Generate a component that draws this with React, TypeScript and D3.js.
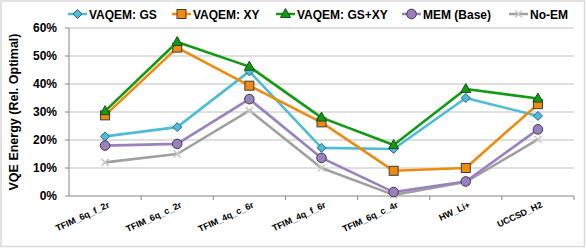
import React from "react";
import * as d3 from "d3";

const WIDTH = 586;
const HEIGHT = 248;
const MARGIN = { top: 28, right: 12, bottom: 52, left: 69 };

const categories = [
  "TFIM_6q_f_2r",
  "TFIM_6q_c_2r",
  "TFIM_4q_c_6r",
  "TFIM_4q_f_6r",
  "TFIM_6q_c_4r",
  "HW_Li+",
  "UCCSD_H2",
];

const yTicks = [0, 10, 20, 30, 40, 50, 60];

const gsValues = [21.3, 24.6, 44.5, 17.2, 16.8, 35.0, 28.6];
const xyValues = [28.8, 53.0, 39.4, 26.3, 9.0, 10.0, 32.8];
const gsxyValues = [30.3, 55.0, 46.2, 28.0, 18.2, 38.2, 34.8];
const memValues = [18.0, 18.6, 34.6, 13.6, 1.4, 5.2, 23.8];
const noemValues = [12.0, 15.0, 30.5, 10.0, 0.4, 5.0, 20.2];

type Marker = "diamond" | "square" | "triangle" | "circle" | "cross";
type Series = { name: string; values: number[]; color: string; marker: Marker };

const series: Series[] = [
  { name: "VAQEM: GS", values: gsValues, color: "#4fbcd6", marker: "diamond" },
  { name: "VAQEM: XY", values: xyValues, color: "#f08a0e", marker: "square" },
  { name: "VAQEM: GS+XY", values: gsxyValues, color: "#129a12", marker: "triangle" },
  { name: "MEM (Base)", values: memValues, color: "#9a80c0", marker: "circle" },
  { name: "No-EM", values: noemValues, color: "#a0a0a0", marker: "cross" },
];

// draw order so that green sits on top like the original
const drawOrder = [4, 3, 0, 1, 2];
const legendX = [68, 172, 276, 402, 509];

const FONT = "'Liberation Sans', Arial, sans-serif";
const MARK_STROKE = "#3f3f3f";

const MarkerShape = ({ kind, x, y, color }: { kind: Marker; x: number; y: number; color: string }) => {
  if (kind === "diamond") {
    const r = 4.5;
    return (
      <path
        d={`M${x},${y - r}L${x + r},${y}L${x},${y + r}L${x - r},${y}Z`}
        fill={color}
        stroke="#2f5f8a"
        strokeWidth={1}
      />
    );
  }
  if (kind === "square") {
    const s = 9;
    return <rect x={x - s / 2} y={y - s / 2} width={s} height={s} fill={color} stroke={MARK_STROKE} strokeWidth={1} />;
  }
  if (kind === "triangle") {
    return (
      <path
        d={`M${x},${y - 5.5}L${x + 5},${y + 3.5}L${x - 5},${y + 3.5}Z`}
        fill={color}
        stroke="#1f4d1f"
        strokeWidth={1}
      />
    );
  }
  if (kind === "circle") {
    return <circle cx={x} cy={y} r={4.8} fill={color} stroke={MARK_STROKE} strokeWidth={1} />;
  }
  const r = 3.5;
  return (
    <path
      d={`M${x - r},${y - r}L${x + r},${y + r}M${x + r},${y - r}L${x - r},${y + r}`}
      stroke="#c8c8c8"
      strokeWidth={1.5}
      fill="none"
    />
  );
};

export default function App() {
  const boundsWidth = WIDTH - MARGIN.left - MARGIN.right;
  const boundsHeight = HEIGHT - MARGIN.top - MARGIN.bottom;

  const xBand = d3.scaleBand<string>().domain(categories).range([0, boundsWidth]);
  const yScale = d3.scaleLinear().domain([0, 60]).range([boundsHeight, 0]);
  const cx = (c: string) => (xBand(c) ?? 0) + xBand.bandwidth() / 2;

  const lineGen = d3
    .line<number>()
    .x((_, i) => cx(categories[i]))
    .y((d) => yScale(d));

  return (
    <svg
      width={WIDTH}
      height={HEIGHT}
      style={{ position: "absolute", left: 0, top: 0, background: "#fff" }}
      fontFamily={FONT}
    >
      <rect x={1} y={1} width={WIDTH - 2.5} height={HEIGHT - 2.5} fill="#fff" stroke="#d9d9d9" strokeWidth={1.5} />

      {/* legend */}
      {series.map((s, i) => (
        <g key={s.name} transform={`translate(${legendX[i]},14)`}>
          <line x1={0} x2={19} y1={0} y2={0} stroke={s.color} strokeWidth={2.5} />
          <MarkerShape kind={s.marker} x={9.5} y={0} color={s.color} />
          <text x={21} y={5} fontSize={12} fontWeight="bold" fill="#000">
            {s.name}
          </text>
        </g>
      ))}

      <text
        transform={`translate(18,${MARGIN.top + boundsHeight / 2}) rotate(-90)`}
        textAnchor="middle"
        fontSize={12.5}
        fontWeight="bold"
        fill="#000"
      >
        VQE Energy (Rel. Optimal)
      </text>

      <g transform={`translate(${MARGIN.left},${MARGIN.top})`}>
        {yTicks.map((t) => (
          <g key={t}>
            {t > 0 && (
              <line x1={0} x2={boundsWidth} y1={yScale(t)} y2={yScale(t)} stroke="#bfbfbf" strokeWidth={1} />
            )}
            <line x1={-4} x2={0} y1={yScale(t)} y2={yScale(t)} stroke="#868686" />
            <text x={-12} y={yScale(t) + 4} textAnchor="end" fontSize={12} fontWeight="bold" fill="#000">
              {t}%
            </text>
          </g>
        ))}
        <line x1={0} x2={0} y1={0} y2={boundsHeight} stroke="#868686" />
        <line x1={0} x2={boundsWidth} y1={boundsHeight} y2={boundsHeight} stroke="#868686" />
        {categories.map((c) => (
          <line
            key={`tick-${c}`}
            x1={(xBand(c) ?? 0) + xBand.bandwidth()}
            x2={(xBand(c) ?? 0) + xBand.bandwidth()}
            y1={boundsHeight}
            y2={boundsHeight + 4}
            stroke="#868686"
          />
        ))}
        {categories.map((c) => (
          <text
            key={`lab-${c}`}
            transform={`translate(${cx(c) + 5},${boundsHeight + 11}) rotate(-25)`}
            textAnchor="end"
            fontSize={9}
            fontWeight="bold"
            fill="#000"
          >
            {c}
          </text>
        ))}

        {drawOrder.map((si) => {
          const s = series[si];
          return (
            <g key={s.name}>
              <path d={lineGen(s.values) ?? ""} fill="none" stroke={s.color} strokeWidth={2.6} strokeLinejoin="round" />
              {s.values.map((v, i) => (
                <MarkerShape key={i} kind={s.marker} x={cx(categories[i])} y={yScale(v)} color={s.color} />
              ))}
            </g>
          );
        })}
      </g>
    </svg>
  );
}
